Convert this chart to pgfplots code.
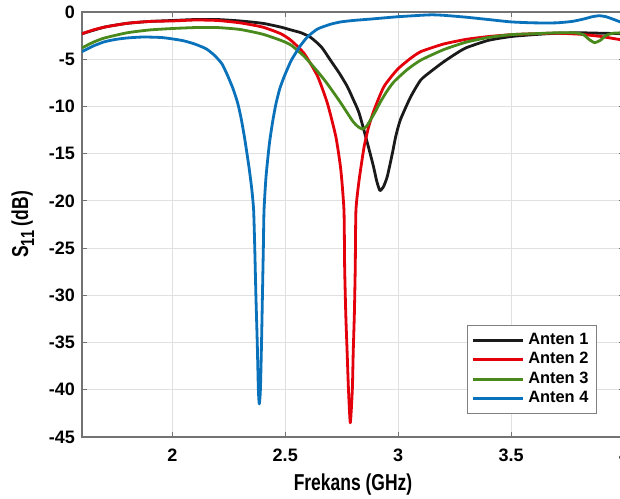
\documentclass[border=0pt]{standalone}
\usepackage{fontspec}
\setmainfont{Liberation Sans}
\usepackage{graphicx}
\usepackage{pgfplots}
\pgfplotsset{compat=1.18}
\definecolor{ant1}{HTML}{1A1A1A}
\definecolor{ant2}{HTML}{E3000B}
\definecolor{ant3}{HTML}{4A8A1C}
\definecolor{ant4}{HTML}{0A72BA}

\begin{document}
\begin{tikzpicture}
\begin{axis}[
  scale only axis,
  width=271pt, height=212.5pt,
  xmin=1.6, xmax=4, ymin=-45, ymax=0,
  xtick={2,2.5,3,3.5,4},
  ytick={-45,-40,-35,-30,-25,-20,-15,-10,-5,0},
  grid=major,
  major grid style={draw=black!12, line width=0.4pt},
  axis line style={draw=black!55, line width=0.6pt},
  tick style={draw=black!55, line width=0.5pt},
  major tick length=2.5pt,
  /pgf/number format/assume math mode=true,
  tick label style={font=\fontsize{9}{10}\selectfont\bfseries},
  xticklabel style={yshift=-2.5pt},
  label style={font=\fontsize{11.5}{13}\selectfont\bfseries},
  xlabel={\scalebox{0.76}[1]{Frekans (GHz)}},
  ylabel={\scalebox{0.76}[1]{S\raisebox{-0.5ex}{\fontsize{9.5}{10}\selectfont 11} (dB)}},
  xlabel style={yshift=1pt},
  ylabel style={yshift=0.5pt},
  legend cell align=left,
  legend style={
    at={(0.95,0.054)}, anchor=south east,
    draw=black!50, line width=0.5pt,
    font=\fontsize{8.2}{10}\selectfont\bfseries,
    row sep=-1.5pt, inner sep=2pt,
  },
  legend image code/.code={\draw[#1, line width=1.5pt] (0pt,0pt) -- (25pt,0pt);},
  every axis plot/.append style={line width=1.4pt, line join=round, smooth, tension=0.35},
]
\addplot[ant1] coordinates {
(1.6,-2.3) (1.7,-1.6) (1.8,-1.2) (1.9,-1.0) (2.0,-0.9) (2.1,-0.8) (2.2,-0.8)
(2.3,-0.95) (2.4,-1.2) (2.48,-1.6) (2.525,-1.9) (2.57,-2.2) (2.613,-2.7)
(2.66,-3.7) (2.70,-5.1) (2.74,-6.5) (2.775,-7.9) (2.80,-9.2) (2.827,-10.7)
(2.864,-13.9) (2.89,-16.3) (2.905,-17.9) (2.919,-18.9) (2.935,-18.5)
(2.952,-17.4) (2.974,-15.0) (2.99,-13.1) (3.01,-11.4) (3.055,-9.0) (3.10,-7.2)
(3.15,-6.2) (3.2,-5.3) (3.25,-4.5) (3.3,-3.8) (3.4,-3.0) (3.5,-2.6) (3.6,-2.4)
(3.7,-2.25) (3.8,-2.2) (3.9,-2.25) (4.0,-2.3)
};
\addplot[ant2] coordinates {
(1.6,-2.3) (1.65,-1.9) (1.7,-1.6) (1.8,-1.2) (1.9,-1.0) (2.0,-0.95) (2.1,-0.85)
(2.2,-0.9) (2.3,-1.15) (2.4,-1.6) (2.48,-2.3) (2.525,-3.0) (2.584,-4.4)
(2.643,-6.8) (2.687,-9.7) (2.724,-13.2) (2.746,-16.7) (2.76,-21) (2.763,-27)
(2.768,-32) (2.774,-36) (2.78,-40) (2.788,-43.5) (2.797,-40) (2.801,-36)
(2.806,-32) (2.81,-27) (2.813,-21) (2.827,-17.8) (2.849,-14.3) (2.87,-12.1)
(2.893,-10.4) (2.937,-7.9) (2.996,-6.1) (3.05,-5.0) (3.10,-4.2) (3.2,-3.4)
(3.3,-2.9) (3.4,-2.6) (3.5,-2.4) (3.6,-2.3) (3.7,-2.25) (3.8,-2.35) (3.9,-2.6)
(4.0,-3.0)
};
\addplot[ant3] coordinates {
(1.6,-3.8) (1.65,-3.2) (1.7,-2.75) (1.8,-2.2) (1.9,-1.9) (2.0,-1.75) (2.1,-1.65)
(2.2,-1.65) (2.3,-1.85) (2.4,-2.35) (2.48,-3.0) (2.525,-3.5) (2.584,-4.7)
(2.643,-6.3) (2.68,-7.4) (2.716,-8.6) (2.745,-9.6) (2.775,-10.7) (2.80,-11.6)
(2.82,-12.1) (2.841,-12.4) (2.86,-12.1) (2.878,-11.4) (2.90,-10.5) (2.922,-9.5)
(2.95,-8.4) (2.981,-7.4) (3.04,-6.1) (3.10,-5.1) (3.2,-4.0) (3.3,-3.2) (3.4,-2.7)
(3.5,-2.4) (3.6,-2.3) (3.7,-2.2) (3.78,-2.2) (3.82,-2.4) (3.845,-2.9)
(3.87,-3.25) (3.895,-3.0) (3.92,-2.5) (3.95,-2.25) (4.0,-2.2)
};
\addplot[ant4] coordinates {
(1.6,-4.2) (1.65,-3.6) (1.7,-3.15) (1.75,-2.9) (1.8,-2.75) (1.87,-2.65)
(1.95,-2.7) (2.0,-2.85) (2.05,-3.05) (2.1,-3.4) (2.15,-3.9) (2.187,-4.6)
(2.22,-5.5) (2.246,-6.8) (2.27,-8.2) (2.29,-9.7) (2.305,-11.3) (2.319,-13.2)
(2.33,-14.9) (2.341,-16.7) (2.352,-18.8) (2.36,-21) (2.365,-25) (2.37,-30)
(2.376,-35) (2.381,-40) (2.385,-41.5) (2.39,-40) (2.395,-35) (2.399,-30)
(2.403,-25) (2.406,-21) (2.415,-17.4) (2.43,-13.9) (2.445,-11.5) (2.459,-9.7)
(2.476,-8.1) (2.496,-6.8) (2.525,-5.2) (2.55,-4.2) (2.569,-3.5) (2.6,-2.6)
(2.643,-1.8) (2.7,-1.3) (2.746,-1.05) (2.8,-0.9) (2.878,-0.75) (2.95,-0.6)
(3.0,-0.5) (3.1,-0.35) (3.15,-0.3) (3.2,-0.35) (3.3,-0.55) (3.4,-0.8)
(3.5,-1.05) (3.6,-1.15) (3.7,-1.15) (3.77,-1.0) (3.82,-0.75) (3.86,-0.5)
(3.89,-0.4) (3.92,-0.5) (3.95,-0.75) (4.0,-1.2)
};
\legend{Anten 1, Anten 2, Anten 3, Anten 4}
\end{axis}
\pgfresetboundingbox
\useasboundingbox ([xshift=-41pt,yshift=-31pt]current axis.south west)
  rectangle ([xshift=-2pt,yshift=6pt]current axis.north east);
\end{tikzpicture}
\end{document}
